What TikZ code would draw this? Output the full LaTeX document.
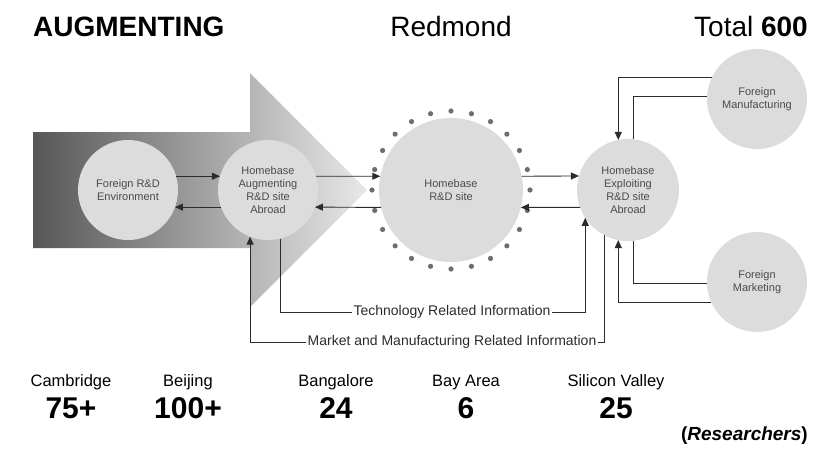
\documentclass[tikz,border=0pt]{standalone}
\usepackage{fontspec}
\setmainfont{Liberation Sans}
\usepackage{tikz}
\usetikzlibrary{positioning, calc}
\usetikzlibrary{arrows.meta}
\definecolor{disc}{HTML}{DCDCDC}
\definecolor{ink}{HTML}{2B2B2B}
\definecolor{dotc}{HTML}{6E6E6E}
\definecolor{shaftdark}{HTML}{575757}
\definecolor{shaftlight}{HTML}{E8E8E8}

\begin{document}
\begin{tikzpicture}[x=1pt, y=-1pt,
    site/.style={circle, fill=disc, minimum size=100pt, inner sep=0pt, outer sep=0pt,
        align=center, text=ink!85, font=\fontsize{11}{13}\selectfont},
    link/.style={draw=ink, line width=0.9pt},
    tip/.style={-{Triangle[length=8pt,width=7pt]}},
    info/.style={inner sep=1.5pt, font=\fontsize{14}{16}\selectfont, text=ink},
    city/.style={anchor=base, inner sep=0pt, font=\fontsize{16.5}{18}\selectfont},
    count/.style={anchor=base, inner sep=0pt, font=\fontsize{30}{32}\selectfont\bfseries}]
    \useasboundingbox (0,0) rectangle (814,448);

    % big shaded arrow
    \shade[left color=shaftdark, right color=shaftlight]
        (33,132) -- (250,132) -- (250,73) -- (367,190) -- (250,307) -- (250,248) -- (33,248) -- cycle;

    % sites
    \node[site] (frd) at (128,190) {Foreign R\&D\\Environment};
    \node[site] (aug) at (268,190) {Homebase\\Augmenting\\R\&D site\\Abroad};
    \node[site, minimum size=144pt] (home) at (451,190) {Homebase\\R\&D site};
    \node[site, minimum size=102pt] (expl) at (628,190) {Homebase\\Exploiting\\R\&D site\\Abroad};
    \node[site] (manu) at (757,99) {Foreign\\Manufacturing};
    \node[site] (mark) at (757,282) {Foreign\\Marketing};

    \foreach \a in {0,15,...,345}
        \fill[dotc] (home.center) ++(\a:79) circle (2.6);

    % flows between sites
    \draw[link, tip] (frd.16) -- (aug.164);
    \draw[link, tip] (aug.-160) -- (frd.-20);
    \draw[link, tip] (aug.16) -- (home.169);
    \draw[link, tip] (home.-166) -- (aug.-20);
    \draw[link, tip] (home.11) -- (expl.164);
    \draw[link, tip] (expl.-160) -- (home.-14);

    \draw[link, tip] (manu.155) -| (expl.101);
    \draw[link] (expl.84) |- (manu.177);
    \draw[link] (expl.-84) |- (mark.-178);
    \draw[link, tip] (mark.-156) -| (expl.-101);

    % information loops
    \node[info] (tech) at (452,312) {Technology Related Information};
    \node[info] (mkt) at (452,342) {Market and Manufacturing Related Information};
    \draw[link] (aug.-76) |- (tech.west);
    \draw[link, tip] (tech.east) -| (expl.-147);
    \draw[link] (expl.-117) |- (mkt.east);
    \draw[link, tip] (mkt.west) -| (aug.-111);

    % headings
    \node[anchor=base west, inner sep=0pt, font=\fontsize{28}{30}\selectfont\bfseries] (side) at (33,36) {AUGMENTING};
    \node[anchor=base, inner sep=0pt, font=\fontsize{28}{30}\selectfont] (hq) at (451,36) {Redmond};
    \node[anchor=base east, inner sep=0pt, font=\fontsize{28}{30}\selectfont] (total) at (808,36) {Total \textbf{600}};

    % researcher counts
    \foreach \x/\place/\num/\id in {71/Cambridge/75+/cam, 188/Beijing/100+/bei, 336/Bangalore/24/ban,
            466/Bay Area/6/bay, 616/Silicon Valley/25/sil} {
        \node[city] (\id) at (\x,386) {\place};
        \node[count] (\id n) at (\x,418) {\num};
    }
    \node[anchor=base east, inner sep=0pt, font=\fontsize{19}{21}\selectfont\bfseries] (unit) at (808,440) {(\textit{Researchers})};
\end{tikzpicture}
\end{document}
